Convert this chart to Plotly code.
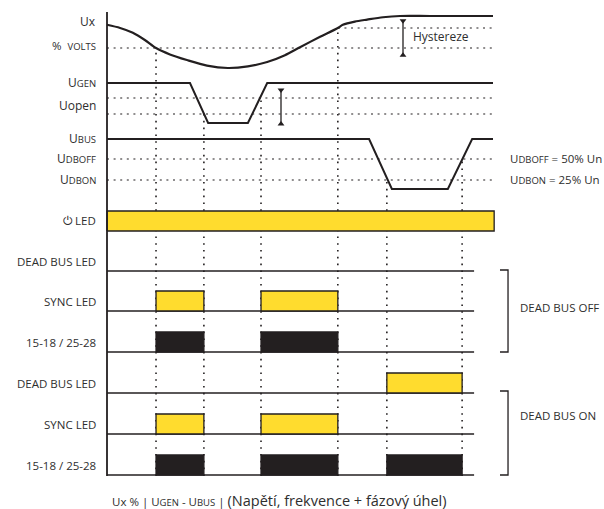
import plotly.graph_objects as go

W, H = 604, 509

# --- data (time in arbitrary units, 0 = start of traces, 100 = end) ---
ux_t = [0, 3.4, 6.7, 9.8, 12.7, 16.3, 20.7, 25.9, 31.3, 36.5, 41.5, 46.1, 50.0,
        55.2, 59.8, 61.1, 64.2, 67.4, 71.5, 75.9, 83.7, 100]
ux_v = [89, 85, 79, 70, 60, 52, 45, 38, 35, 37, 42.5, 51, 61,
        74, 85, 89, 93, 95.5, 98.4, 100, 100, 100]
ux_upper, ux_lower = 85, 60
ux_upper_from = 59.8

ugen_t = [0, 21.5, 26.2, 36.5, 41.5, 100]
ugen_v = [100, 100, 0, 0, 100, 100]
ugen_upper, ugen_lower = 62.5, 22.5

ubus_t = [0, 67.9, 73.8, 88.3, 94.6, 100]
ubus_v = [100, 100, 0, 0, 100, 100]
ubus_upper, ubus_lower = 60, 18

# switching instants and the level they are taken from
event_t = [12.7, 25.1, 39.9, 59.8, 72.5, 92.0]
event_row = ["ux", "ugen", "ugen", "ux", "ubus", "ubus"]
event_lvl = [ux_lower, ugen_lower, ugen_upper, ux_upper, ubus_lower, ubus_upper]

led_on = [(0, 100.3)]
sync_on = [(12.7, 25.1), (39.9, 59.8)]
off_relay_on = [(12.7, 25.1), (39.9, 59.8)]
on_deadbus_on = [(72.5, 92.0)]
on_relay_on = [(12.7, 25.1), (39.9, 59.8), (72.5, 92.0)]
digital_end = 95.1

INK = "#231f20"
TXT = "#2e2e2e"
YEL = "#ffdc2e"
FONT = "Open Sans"

# --- layout geometry: pixel <-> value for every row ---
X0, K = 107, 3.86  # pixel of t=0, pixels per time unit


def t_of(px):
    return (px - X0) / K


rows = {
    # name: (px_a, v_a, px_b, v_b, top_px, bottom_px)
    "ux": (16, 100, 48, 60, 6, 80),
    "ugen": (83, 100, 123, 0, 76, 130),
    "ubus": (139, 100, 189, 0, 132, 196),
}
digital = [("led", 231), ("off_dead", 271), ("off_sync", 311), ("off_relay", 352),
           ("on_dead", 393), ("on_sync", 434), ("on_relay", 475)]
for name, base in digital:
    rows[name] = (base, 0, base - 20, 1, base - 26, base + 4)

axis_id = {}
layout_axes = {}
for i, (name, (pa, va, pb, vb, top, bot)) in enumerate(rows.items()):
    k = (vb - va) / (pb - pa)
    key = "yaxis" if i == 0 else f"yaxis{i + 1}"
    axis_id[name] = "y" if i == 0 else f"y{i + 1}"
    layout_axes[key] = dict(
        domain=[1 - bot / H, 1 - top / H],
        range=[va + (bot - pa) * k, va + (top - pa) * k],
        visible=False, anchor="x", fixedrange=True,
    )


def to_paper(name, v):
    pa, va, pb, vb, _, _ = rows[name]
    px = pa + (v - va) * (pb - pa) / (vb - va)
    return 1 - px / H


fig = go.Figure()


def line(row, xs, ys, width=2.0, dash=None, color=INK):
    fig.add_trace(go.Scatter(
        x=xs, y=ys, mode="lines", yaxis=axis_id[row], hoverinfo="skip",
        line=dict(color=color, width=width, dash=dash), showlegend=False,
    ))


DASH = "2px,4.6px"

# analog rows
line("ux", [0, 100], [ux_lower, ux_lower], 1.2, DASH)
line("ux", [ux_upper_from, 100], [ux_upper, ux_upper], 1.2, DASH)
line("ux", ux_t, ux_v, 2.2)
fig.data[-1].line.shape = "spline"
fig.data[-1].line.smoothing = 0.8

for lvl in (ugen_upper, ugen_lower):
    line("ugen", [0, 100], [lvl, lvl], 1.2, DASH)
line("ugen", ugen_t, ugen_v, 2.0)

for lvl in (ubus_upper, ubus_lower):
    line("ubus", [0, 100], [lvl, lvl], 1.2, DASH)
line("ubus", ubus_t, ubus_v, 2.0)


# digital rows
def pulses(row, spans, fill, outline=True):
    for a, b in spans:
        fig.add_trace(go.Scatter(
            x=[a, a, b, b, a], y=[0, 1, 1, 0, 0], mode="lines", fill="toself",
            fillcolor=fill, yaxis=axis_id[row], hoverinfo="skip", showlegend=False,
            line=dict(color=INK, width=1.3 if outline else 0),
        ))


pulses("led", led_on, YEL)
for row in ("off_dead", "off_sync", "off_relay", "on_dead", "on_sync", "on_relay"):
    line(row, [0, digital_end], [0, 0], 1.3)
pulses("off_sync", sync_on, YEL)
pulses("off_relay", off_relay_on, INK)
pulses("on_dead", on_deadbus_on, YEL)
pulses("on_sync", sync_on, YEL)
pulses("on_relay", on_relay_on, INK)

# hysteresis markers
for row, tx, v0, v1 in (("ux", t_of(403), 94, 51), ("ugen", t_of(281), 82.5, -2.5)):
    fig.add_trace(go.Scatter(
        x=[tx, tx], y=[v0, v1], mode="lines+markers", yaxis=axis_id[row],
        hoverinfo="skip", showlegend=False, line=dict(color=INK, width=1.3),
        marker=dict(symbol=["triangle-down", "triangle-up"], size=6, color=INK),
    ))

shapes = []
# time axis
shapes.append(dict(type="line", xref="x", yref="paper", x0=0, x1=0,
                   y0=1 - 12 / H, y1=1 - 476 / H, line=dict(color=INK, width=1.8)))
# event guides
for t, row, lvl in zip(event_t, event_row, event_lvl):
    shapes.append(dict(type="line", xref="x", yref="paper", x0=t, x1=t,
                       y0=1 - 476 / H, y1=to_paper(row, lvl), layer="below",
                       line=dict(color=INK, width=1.6, dash="1.6px,5.2px")))
# group brackets
for top, bot in ((270, 352), (391, 475)):
    p = lambda x, y: f"{x / W:.4f},{1 - y / H:.4f}"
    shapes.append(dict(type="path", xref="paper", yref="paper",
                       path=f"M{p(500, top)} L{p(508, top)} L{p(508, bot)} L{p(500, bot)}",
                       line=dict(color=INK, width=1.3)))

SC = "font-size:9.5px"
ann = []


def label(row, v, text, size=11.5):
    ann.append(dict(xref="paper", x=98 / W, xanchor="right", yref=axis_id[row], y=v,
                    yanchor="middle", text=text, showarrow=False,
                    font=dict(size=size, color=TXT, family=FONT)))


label("ux", 92.5, "Ux", 12)
label("ux", 62.5, f"%&nbsp;&nbsp;<span style='{SC}'>VOLTS</span>")
label("ugen", 100, f"U<span style='{SC}'>GEN</span>", 12)
label("ugen", 42.5, "Uopen", 12)
label("ubus", 100, f"U<span style='{SC}'>BUS</span>", 12)
label("ubus", ubus_upper, f"U<span style='{SC}'>DBOFF</span>", 12)
label("ubus", ubus_lower, f"U<span style='{SC}'>DBON</span>", 12)
label("led", 0.5, "\u23fb LED")
for row, txt in (("off_dead", "DEAD BUS LED"), ("off_sync", "SYNC LED"),
                 ("off_relay", "15-18 / 25-28"), ("on_dead", "DEAD BUS LED"),
                 ("on_sync", "SYNC LED"), ("on_relay", "15-18 / 25-28")):
    label(row, 0.5, txt)

right = [
    ("ubus", ubus_upper, f"U<span style='{SC}'>DBOFF</span> = 50% Un"),
    ("ubus", ubus_lower, f"U<span style='{SC}'>DBON</span> = 25% Un"),
]
for row, v, txt in right:
    ann.append(dict(xref="paper", x=508 / W, xanchor="left", yref=axis_id[row], y=v,
                    text=txt, showarrow=False, font=dict(size=11.5, color=TXT, family=FONT)))
ann.append(dict(xref="x", x=t_of(411), xanchor="left", yref="y", y=73.75, text="Hystereze",
                showarrow=False, font=dict(size=12, color=TXT, family=FONT)))
for y, txt in ((307, "DEAD BUS OFF"), (425, "DEAD BUS ON")):
    ann.append(dict(xref="paper", x=518 / W, xanchor="left", yref="paper", y=1 - y / H,
                    text=txt, showarrow=False, font=dict(size=11.5, color=TXT, family=FONT)))
ann.append(dict(
    xref="paper", x=110 / W, xanchor="left", yref="paper", y=1 - 500 / H, yanchor="middle",
    text=(f"<span style='font-size:11.5px'>Ux % | U<span style='{SC}'>GEN</span> - "
          f"U<span style='{SC}'>BUS</span> | </span>(Napětí, frekvence + fázový úhel)"),
    showarrow=False, font=dict(size=14.5, color=TXT, family=FONT)))

fig.update_layout(
    width=W, height=H, margin=dict(l=0, r=0, t=0, b=0),
    paper_bgcolor="white", plot_bgcolor="rgba(0,0,0,0)",
    xaxis=dict(range=[t_of(0), t_of(W)], domain=[0, 1], visible=False, fixedrange=True),
    shapes=shapes, annotations=ann, showlegend=False,
    **layout_axes,
)

# the page's default body margin would shift the 604x509 figure
fig.write_html("out.html", config={"displayModeBar": False},
               post_script="document.body.style.margin='0';"
               "document.body.style.overflow='hidden';")
